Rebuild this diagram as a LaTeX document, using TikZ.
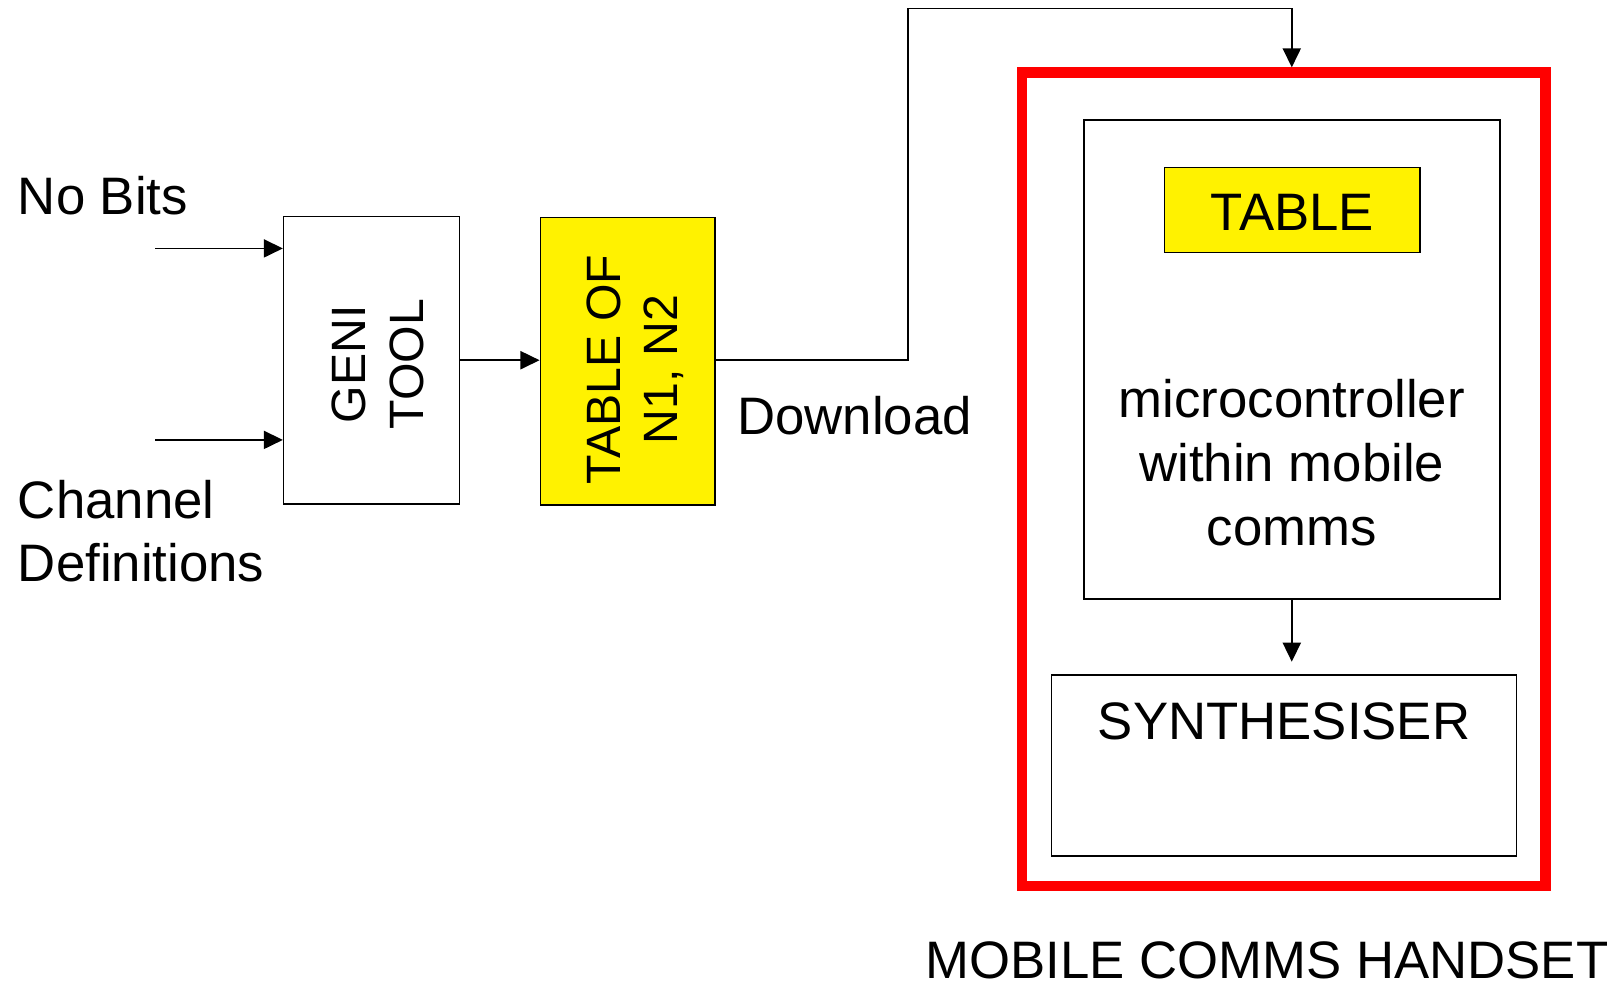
\documentclass[tikz,border=0pt]{standalone}
\usepackage{fontspec}
\setmainfont{Liberation Sans}
\usetikzlibrary{arrows.meta}

\begin{document}
\begin{tikzpicture}[x=0.02cm,y=-0.02cm,
    txt/.style={inner sep=0pt,font=\fontsize{29}{35}\selectfont},
    sidetxt/.style={txt,rotate=90,align=center,font=\fontsize{26.5}{31.5}\selectfont},
    blockbox/.style={draw=black,line width=0.85pt,inner sep=0pt},
    yellowbox/.style={blockbox,fill=yellow},
    handset/.style={draw=red,line width=5.7pt,inner sep=0pt},
    arr/.style={line width=0.85pt,-{Triangle[length=10.5pt,width=10pt]}},
    wire/.style={line width=0.85pt}]
  \useasboundingbox (0,0) rectangle (1568,953);

  % tool chain on the left
  \node[blockbox,minimum width=3.4cm,minimum height=5.56cm] (geni) at (359,348) {};
  \node[yellowbox,minimum width=3.38cm,minimum height=5.56cm] (tab) at (606.5,349) {};
  \node[sidetxt] (genitxt) at (365,352) {GENI\\TOOL};
  \node[sidetxt] (tabtxt) at (614,357) {TABLE OF\\N1, N2};

  % inputs
  \node[txt,anchor=base west] (nobits) at (17,207) {No Bits};
  \node[txt,anchor=base west,align=left] (chan) at (17,562) {Channel\\Definitions};
  \coordinate (in1) at (150,240);
  \coordinate (in2) at (150,425);
  \draw[arr] (in1) -- (in1 -| geni.west);
  \draw[arr] (in2) -- (in2 -| geni.west);
  \draw[arr] (geni.east) -- (geni.east -| tab.west);

  % handset
  \node[handset,minimum width=10.12cm,minimum height=15.72cm] (handset) at (1240,463) {};
  \node[blockbox,minimum width=8.04cm,minimum height=9.26cm] (micro) at (1248,347.5) {};
  \node[yellowbox,minimum width=4.94cm,minimum height=1.64cm] (table) at (1248.5,203) {};
  \node[txt] (tabletxt) at (1248.5,205) {TABLE};
  \node[txt,anchor=base,align=center,font=\fontsize{29}{35.2}\selectfont] (microtxt) at (1248,527) {microcontroller\\within mobile\\comms};
  \node[blockbox,minimum width=8.98cm,minimum height=3.5cm] (synth) at (1240.5,739.5) {};
  \node[txt,anchor=base] (synthtxt) at (1240.5,714) {SYNTHESISER};
  \node[txt,anchor=base] (handtxt) at (1224,945) {MOBILE COMMS HANDSET};
  \draw[arr,shorten >=0.24cm] (micro.south) -- (micro.south |- synth.north);

  % download path
  \node[txt,anchor=base west] (dl) at (712,420) {Download};
  \coordinate (bend) at (877,8);
  \draw[arr] (tab.east |- geni.east) -| (bend) -| (micro.north |- handset.north);
\end{tikzpicture}
\end{document}
